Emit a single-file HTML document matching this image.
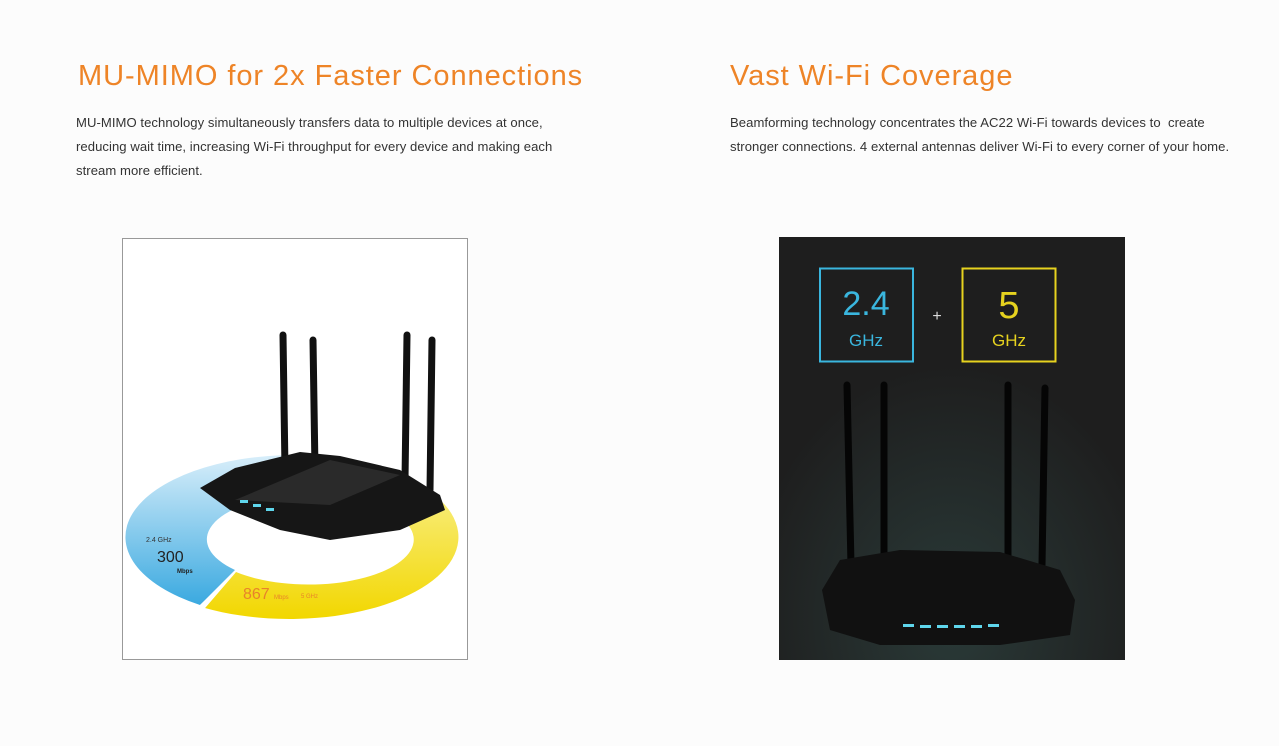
<!DOCTYPE html>
<html><head><style>
body{margin:0;width:1279px;height:746px;background:#fcfcfc;font-family:"Liberation Sans",sans-serif;position:relative;overflow:hidden}
h2{position:absolute;margin:0;color:#ee8427;font-weight:normal;font-size:29px;letter-spacing:0.95px}
p{position:absolute;margin:0;color:#333;font-size:13.1px;line-height:24px;letter-spacing:0.05px}
</style></head><body>
<h2 style="left:78px;top:60px">MU-MIMO for 2x Faster Connections</h2>
<p style="left:76px;top:111px;width:560px">MU-MIMO technology simultaneously transfers data to multiple devices at once,<br>reducing wait time, increasing Wi-Fi throughput for every device and making each<br>stream more efficient.</p>
<h2 style="left:730px;top:60px">Vast Wi-Fi Coverage</h2>
<p style="left:730px;top:111px;width:549px;white-space:nowrap">Beamforming technology concentrates the AC22 Wi-Fi towards devices to &nbsp;create<br>stronger connections. 4 external antennas deliver Wi-Fi to every corner of your home.</p>

<svg style="position:absolute;left:0;top:0" width="1279" height="746">
<defs>
<linearGradient id="bl" x1="0" y1="0" x2="0" y2="1"><stop offset="0" stop-color="#d8eefa"/><stop offset="1" stop-color="#3aa9e0"/></linearGradient>
<linearGradient id="yl" x1="0" y1="0" x2="0" y2="1"><stop offset="0" stop-color="#faf3a0"/><stop offset="1" stop-color="#f2d700"/></linearGradient>
<radialGradient id="rg" cx="0.5" cy="0.9" r="0.6"><stop offset="0" stop-color="#2a3a38"/><stop offset="1" stop-color="#1e1e1e"/></radialGradient>
</defs>
<rect x="122.5" y="238.5" width="345" height="421" fill="#fff" stroke="#999"/>
<path d="M294 455 A169 82 0 0 0 200 605 L235 570 A105 45 0 0 1 294 495 Z" fill="url(#bl)"/>
<path d="M294 455 A169 82 0 1 1 205 608 L236 572 A105 45 0 1 0 294 495 Z" fill="url(#yl)"/>
<path d="M205 608 L236 572 L200 605 Z" fill="#fff"/>
<text x="146" y="542" font-size="7" fill="#333">2.4 GHz</text>
<text x="157" y="562" font-size="16" fill="#222">300</text>
<text x="177" y="573" font-size="6" fill="#222" font-weight="bold">Mbps</text>
<text x="243" y="599" font-size="16" fill="#e8832a">867</text>
<text x="274" y="599" font-size="6" fill="#e8832a">Mbps</text>
<text x="301" y="598" font-size="6" fill="#e8832a">5 GHz</text>
<g stroke="#111" stroke-linecap="round">
<line x1="283" y1="335" x2="285" y2="470" stroke-width="7"/>
<line x1="313" y1="340" x2="315" y2="470" stroke-width="7"/>
<line x1="407" y1="335" x2="405" y2="480" stroke-width="7"/>
<line x1="432" y1="340" x2="430" y2="490" stroke-width="7"/>
</g>
<path d="M200 488 L235 468 L300 452 L340 456 L400 470 L440 495 L445 510 L400 530 L330 540 L280 530 L230 510 Z" fill="#161616"/>
<path d="M235 500 L330 460 L400 475 L330 505 Z" fill="#2a2a2a"/>
<g fill="#5fd6ec"><rect x="240" y="500" width="8" height="3"/><rect x="253" y="504" width="8" height="3"/><rect x="266" y="508" width="8" height="3"/></g>

<rect x="779" y="237" width="346" height="423" fill="url(#rg)"/>
<rect x="820" y="268.5" width="93" height="93" fill="none" stroke="#3ab6de" stroke-width="2"/>
<text x="866" y="315" font-size="34" fill="#3ab6de" text-anchor="middle">2.4</text>
<text x="866" y="346" font-size="17" fill="#3ab6de" text-anchor="middle">GHz</text>
<text x="937" y="321" font-size="16" fill="#ddd" text-anchor="middle">+</text>
<rect x="962.5" y="268.5" width="93" height="93" fill="none" stroke="#e6d21f" stroke-width="2"/>
<text x="1009" y="318" font-size="38" fill="#e6d21f" text-anchor="middle">5</text>
<text x="1009" y="346" font-size="17" fill="#e6d21f" text-anchor="middle">GHz</text>
<g stroke="#050505" stroke-linecap="round">
<line x1="847" y1="385" x2="851" y2="565" stroke-width="7"/>
<line x1="884" y1="385" x2="884" y2="565" stroke-width="7"/>
<line x1="1008" y1="385" x2="1008" y2="565" stroke-width="7"/>
<line x1="1045" y1="388" x2="1042" y2="565" stroke-width="7"/>
</g>
<path d="M822 590 L840 560 L900 550 L1000 552 L1060 570 L1075 600 L1070 635 L1000 645 L880 645 L830 630 Z" fill="#111"/>
<g fill="#5fd6ec"><rect x="903" y="624" width="11" height="3"/><rect x="920" y="625" width="11" height="3"/><rect x="937" y="625" width="11" height="3"/><rect x="954" y="625" width="11" height="3"/><rect x="971" y="625" width="11" height="3"/><rect x="988" y="624" width="11" height="3"/></g>
</svg>
</body></html>
